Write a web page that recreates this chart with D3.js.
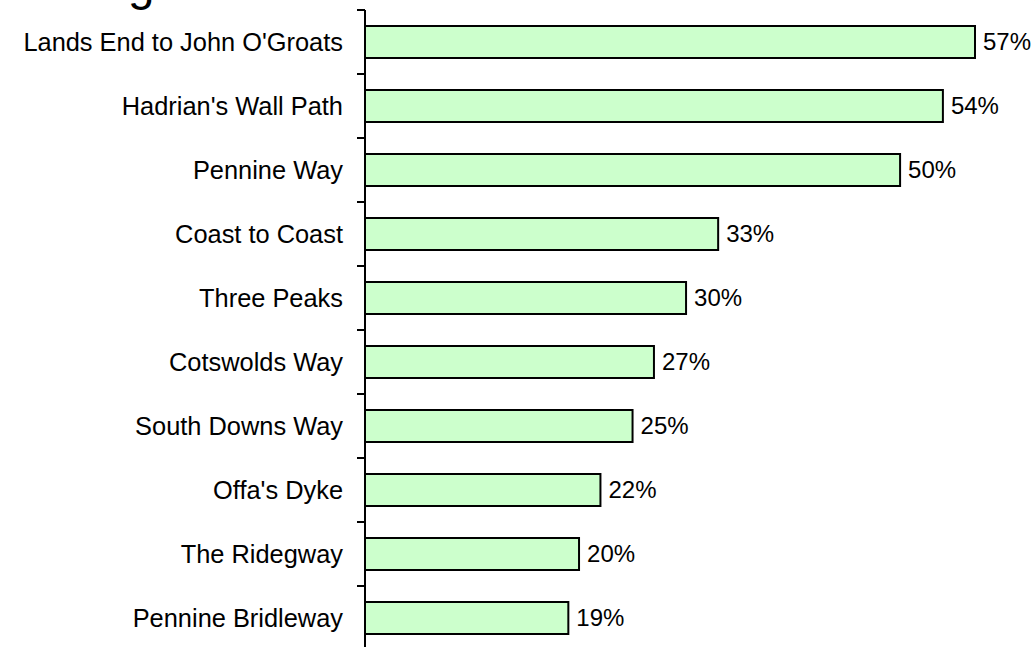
<!DOCTYPE html>
<html>
<head>
<meta charset="utf-8">
<script src="https://cdn.jsdelivr.net/npm/d3@7"></script>
<style>
  html, body { margin: 0; padding: 0; background: #fff; }
  svg { display: block; }
  text { font-family: Arial, "Liberation Sans", sans-serif; fill: #000; }
</style>
</head>
<body>
<svg id="chart" width="1035" height="647"></svg>
<script>
const titleText = "Rating the hardest UK national trails and routes (%)";
const categories = [
  "Lands End to John O'Groats",
  "Hadrian's Wall Path",
  "Pennine Way",
  "Coast to Coast",
  "Three Peaks",
  "Cotswolds Way",
  "South Downs Way",
  "Offa's Dyke",
  "The Ridegway",
  "Pennine Bridleway"
];
const values = [57, 54, 50, 33, 30, 27, 25, 22, 20, 19];

const svg = d3.select("#chart");

const x = d3.scaleLinear().domain([0, 57]).range([365, 975]);
const y = d3.scaleBand().domain(categories).range([10, 650]).paddingInner(0.5).paddingOuter(0.25);

// title (mostly above the visible area, as in the reference)
svg.append("text")
  .attr("x", 17).attr("y", 0)
  .attr("font-size", 47.6)
  .text(titleText);

// bars
svg.selectAll("rect.bar").data(categories).enter().append("rect")
  .attr("class", "bar")
  .attr("x", x(0))
  .attr("y", d => y(d))
  .attr("width", (d, i) => x(values[i]) - x(0))
  .attr("height", y.bandwidth())
  .attr("fill", "#CCFFCC")
  .attr("stroke", "#000")
  .attr("stroke-width", 2);

// axis line + ticks at band boundaries
const tickYs = categories.map((d, i) => 10 + i * y.step());
svg.append("line")
  .attr("x1", x(0)).attr("x2", x(0))
  .attr("y1", 10).attr("y2", 650)
  .attr("stroke", "#000").attr("stroke-width", 2);
svg.selectAll("line.tick").data(tickYs).enter().append("line")
  .attr("class", "tick")
  .attr("x1", x(0) - 8).attr("x2", x(0))
  .attr("y1", d => d).attr("y2", d => d)
  .attr("stroke", "#000").attr("stroke-width", 2);

// category labels
svg.selectAll("text.cat").data(categories).enter().append("text")
  .attr("class", "cat")
  .attr("x", 343)
  .attr("y", d => y(d) + y.bandwidth() / 2)
  .attr("dy", "0.35em")
  .attr("text-anchor", "end")
  .attr("font-size", 25.4)
  .text(d => d);

// value labels
svg.selectAll("text.val").data(categories).enter().append("text")
  .attr("class", "val")
  .attr("x", (d, i) => x(values[i]) + 8)
  .attr("y", d => y(d) + y.bandwidth() / 2)
  .attr("dy", "0.35em")
  .attr("font-size", 24)
  .text((d, i) => values[i] + "%");
</script>
</body>
</html>
